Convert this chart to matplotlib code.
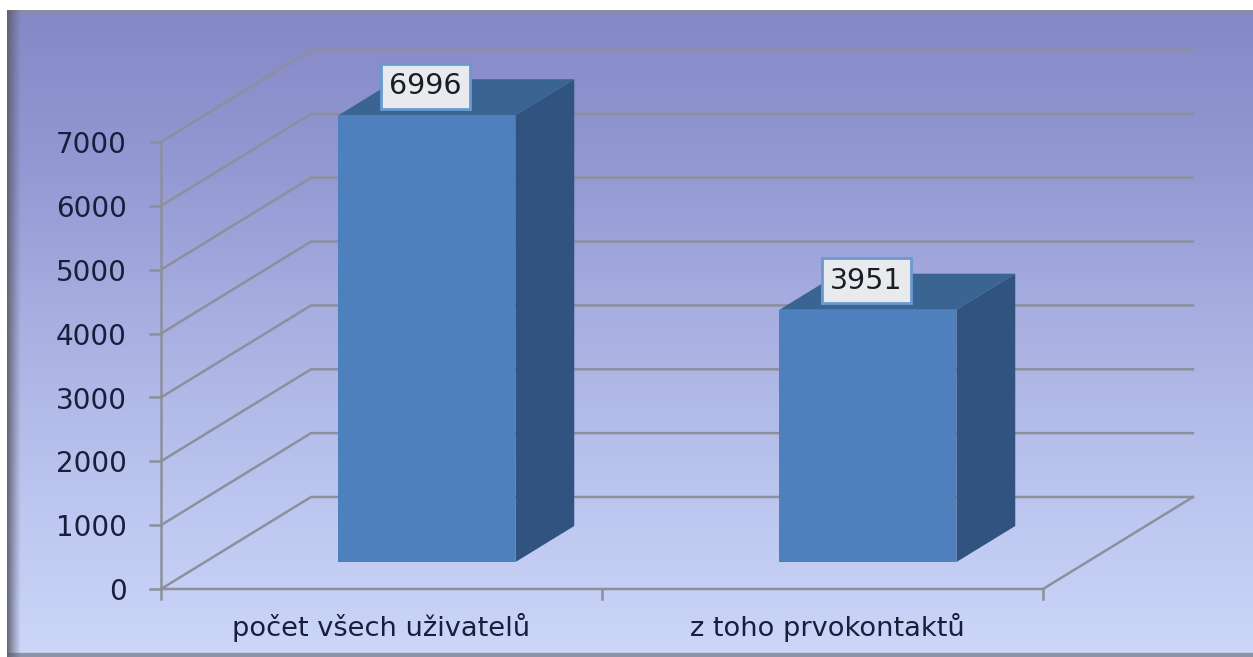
import numpy as np
import matplotlib
matplotlib.use("Agg")
import matplotlib.pyplot as plt
from matplotlib.colors import LinearSegmentedColormap
from matplotlib.patches import Polygon

categories = ["počet všech uživatelů", "z toho prvokontaktů"]
values = [6996, 3951]
yticks = [0, 1000, 2000, 3000, 4000, 5000, 6000, 7000]

W, H = 1253, 657
fig = plt.figure(figsize=(W / 100, H / 100), dpi=100, facecolor="white")

# background panel, top to bottom gradient
bg = fig.add_axes([7 / W, 0, 1 - 7 / W, 1 - 10 / H])
bg.axis("off")
cmap = LinearSegmentedColormap.from_list(
    "panel", ["#8588c6", "#9499d3", "#aab1e2", "#bcc5ef", "#ccd7f9"])
bg.imshow(np.linspace(0, 1, 256).reshape(-1, 1), cmap=cmap, aspect="auto",
          extent=[0, 1, 0, 1])
# dark edges of the panel
left = fig.add_axes([7 / W, 0, 14 / W, 1 - 10 / H])
left.axis("off")
edge = np.zeros((1, 64, 4))
edge[..., :3] = matplotlib.colors.to_rgb("#5c6070")
edge[..., 3] = np.linspace(0.95, 0, 64) ** 1.1
left.imshow(edge, aspect="auto", extent=[0, 1, 0, 1])
bg.plot([0, 1], [1, 1], color="#8a8ba5", lw=6)
bg.plot([0, 1], [0, 0], color="#8d93a8", lw=6)
bg.set_xlim(0, 1)
bg.set_ylim(0, 1)

# chart axes cover the whole figure, 1 category = 441 px, 1000 = 63.86 px
ax = fig.add_axes([0, 0, 1, 1])
ax.axis("off")
ax.patch.set_alpha(0)
sx = 441.0
sy = 0.06386
ax.set_xlim(-161 / sx, (W - 161) / sx)
ax.set_ylim(-(H - 589) / sy, 589 / sy)

depth_x = 150 / sx
depth_y = 92 / sy


def proj(x, v, d=0.0):
    return x + d * depth_x, v + d * depth_y


grid_c = "#8c909d"
lw = 1.8
n = len(categories)

# walls, floor
for v in yticks:
    xs, ys = zip(proj(0, v), proj(0, v, 1), proj(n, v, 1))
    ax.plot(xs, ys, color=grid_c, lw=lw, solid_joinstyle="miter", zorder=2)
xs, ys = zip(proj(0, 0), proj(n, 0), proj(n, 0, 1))
ax.plot(xs, ys, color=grid_c, lw=lw, zorder=2)
ax.plot([0, 0], [0, yticks[-1]], color=grid_c, lw=lw, zorder=2)

# ticks
for v in yticks:
    ax.plot([-11 / sx, 0], [v, v], color=grid_c, lw=lw, zorder=2)
    ax.text(-34 / sx, v - 50, str(v), ha="right", va="center", fontsize=20,
            color="#1a1e3c", zorder=5)
for i in range(n + 1):
    ax.plot([i, i], [0, -10 / sy], color=grid_c, lw=lw, zorder=2)
for i, c in enumerate(categories):
    ax.text(i + 0.5 + 5 * i / sx, -38 / sy, c, ha="center", va="center",
            fontsize=19.6, color="#1a1e3c", zorder=5)

# 3d bars
bar_w = 177 / sx
d0, d1 = 0.293, 0.685
for i, v in enumerate(values):
    x0 = i + 0.5 - bar_w / 2 + 1.5 / sx
    x1 = x0 + bar_w
    front = [proj(x0, 0, d0), proj(x1, 0, d0), proj(x1, v, d0), proj(x0, v, d0)]
    side = [proj(x1, 0, d0), proj(x1, 0, d1), proj(x1, v, d1), proj(x1, v, d0)]
    top = [proj(x0, v, d0), proj(x1, v, d0), proj(x1, v, d1), proj(x0, v, d1)]
    ax.add_patch(Polygon(side, facecolor="#30537f", edgecolor="none", zorder=3))
    ax.add_patch(Polygon(top, facecolor="#3a6492", edgecolor="none", zorder=3))
    ax.add_patch(Polygon(front, facecolor="#4e80bd", edgecolor="none", zorder=4))
    tx, ty = proj(i + 0.5, v, d0)
    ax.text(tx, ty + 29 / sy, str(v), ha="center", va="center", fontsize=20.5,
            color="#1b1d24", zorder=6,
            bbox=dict(boxstyle="square,pad=0.3", facecolor="#e9eaee",
                      edgecolor="#6a9ad0", linewidth=2))

fig.savefig("out.png", dpi=100, facecolor="white")
